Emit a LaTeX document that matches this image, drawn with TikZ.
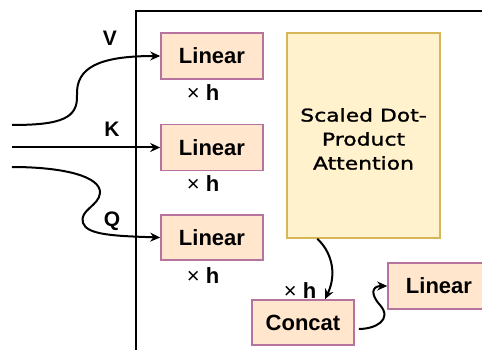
\documentclass[tikz,border=0pt]{standalone}
\usepackage{fontspec}
\setmainfont{Liberation Sans}
\newfontfamily\roundfont[FakeStretch=1.25,FakeBold=1.5]{DejaVu Sans}
\usetikzlibrary{calc,arrows.meta}

\definecolor{peach}{HTML}{FFE6CC}
\definecolor{mauve}{HTML}{B5739D}
\definecolor{cream}{HTML}{FFF2CC}
\definecolor{gold}{HTML}{D6B656}

\tikzset{
  linbox/.style={draw=mauve, fill=peach, line width=1.6pt, minimum width=102pt,
    minimum height=46pt, inner sep=0pt,
    font=\fontsize{22}{24}\selectfont\bfseries},
  attbox/.style={draw=gold, fill=cream, line width=1.6pt, minimum width=153pt,
    minimum height=205pt, inner sep=0pt},
  lbl/.style={font=\fontsize{21}{24}\selectfont\bfseries, inner sep=0pt},
  times/.style={font=\fontsize{22}{24}\selectfont\bfseries, inner sep=0pt},
  flow/.style={line width=2pt, -{Stealth[length=10pt,width=9pt]}},
  frame/.style={line width=2.4pt}
}

\begin{document}
\begin{tikzpicture}[x=1pt,y=-1pt]
\useasboundingbox (0,0) rectangle (482,350);

% enclosing block
\draw[frame] (136,360) -- (136,11) -- (495,11);

% projection layers
\node[linbox] (vlin) at (212,56) {Linear};
\node[linbox] (klin) at (212,147.5) {Linear};
\node[linbox, minimum height=45pt] (qlin) at (212,237.5) {Linear};

\node[times] (vh) at (203,93) {{\mdseries ×} h};
\node[times] (kh) at (203,184) {{\mdseries ×} h};
\node[times] (qh) at (203,276) {{\mdseries ×} h};

% attention core
\node[attbox] (att) at (363.5,135.5) {};
\node[font=\roundfont\fontsize{17.5}{24}\selectfont, align=center, inner sep=0pt]
  (atttxt) at (363.5,139) {Scaled Dot-\\Product\\Attention};

% output side
\node[linbox, minimum height=45pt] (concat) at (303,322.5) {Concat};
\node[linbox] (olin) at (439,286) {Linear};
\node[times] (ch) at (300,291) {{\mdseries ×} h};

% input labels
\node[lbl] (vl) at (110,38) {V};
\node[lbl] (kl) at (112,129) {K};
\node[lbl] (ql) at (112,221) {Q};

% inputs
\coordinate (vin) at (12,125);
\coordinate (kin) at (12,147.5);
\coordinate (qin) at (12,167);

\draw[flow] (vin) .. controls (62,125) and (78,118) .. (77,95)
  .. controls (76,68) and (98,56) .. (vlin.west);
\draw[flow] (kin) -- (klin.west);
\draw[flow] (qin) .. controls (62,167) and (101,176) .. (100,193)
  .. controls (99,206) and (79,210) .. (83,223)
  .. controls (87,235) and (115,236) .. (qlin.west);

% attention to concat, concat to output projection
\coordinate (attout) at ($(att.south west)+(31,0)$);
\coordinate (catout) at ($(concat.east)+(4,6.5)$);
\draw[flow] (attout) .. controls (330,250) and (338,272) .. ($(concat.north)+(22,0)$);
\draw[flow] (catout) .. controls (375,329) and (393,320) .. (380,305)
  .. controls (370,294) and (372,286) .. (olin.west);

\end{tikzpicture}
\end{document}
